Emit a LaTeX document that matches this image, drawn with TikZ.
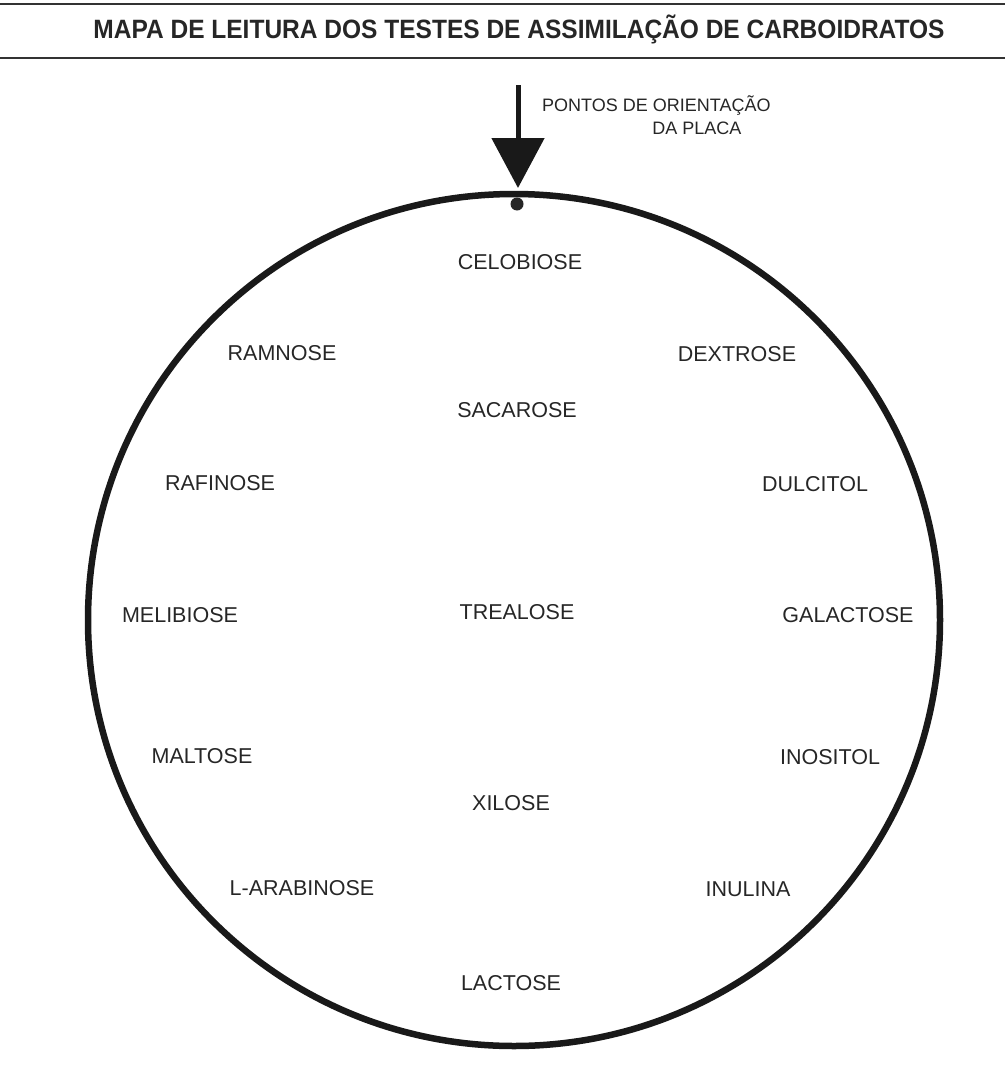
\documentclass[tikz,border=0pt]{standalone}
\usepackage{fontspec}
\setmainfont{Liberation Sans}
\usetikzlibrary{arrows.meta}

\begin{document}
\begin{tikzpicture}[x=1pt,y=-1pt]
\tikzstyle{sugar} = [text=black!85, font=\fontsize{21.5}{24}\selectfont, inner sep=0pt]
\tikzstyle{rule} = [line width=2.5pt, black!80]
\tikzstyle{orient} = [line width=5pt, -{Triangle[length=50pt,width=52pt]}]
\useasboundingbox (0,0) rectangle (1005,1079);
% cabecalho
\draw[rule] (0,4) -- (1005,4);
\draw[rule] (0,58) -- (1005,58);
\node[text=black!85, font=\fontsize{26.5}{28}\selectfont\bfseries, inner sep=0pt] (titulo) at (519,29)
    {\scalebox{0.925}[1]{MAPA DE LEITURA DOS TESTES DE ASSIMILAÇÃO DE CARBOIDRATOS}};
% placa
\node[circle, draw=black!90, line width=6.5pt, minimum size=852pt, inner sep=0pt] (placa) at (514,620) {};
\node[circle, fill=black!85, minimum size=13pt, inner sep=0pt] (ponto) at (517,204) {};
\coordinate (setatopo) at (518,85);
\coordinate (setaponta) at (518,188);
\draw[orient, black!90] (setatopo) -- (setaponta);
\node[text=black!85, font=\fontsize{18}{20}\selectfont, inner sep=0pt, anchor=west] (pontos) at (542,106) {PONTOS DE ORIENTAÇÃO};
\node[text=black!85, font=\fontsize{18}{20}\selectfont, inner sep=0pt] (daplaca) at (697,128) {DA PLACA};
% carboidratos
\node[sugar] (celobiose) at (520,262) {CELOBIOSE};
\node[sugar] (ramnose) at (282,353) {RAMNOSE};
\node[sugar] (dextrose) at (737,354) {DEXTROSE};
\node[sugar] (sacarose) at (517,410) {SACAROSE};
\node[sugar] (rafinose) at (220,483) {RAFINOSE};
\node[sugar] (dulcitol) at (815,484) {DULCITOL};
\node[sugar] (melibiose) at (180,615) {MELIBIOSE};
\node[sugar] (trealose) at (517,612) {TREALOSE};
\node[sugar] (galactose) at (848,615) {GALACTOSE};
\node[sugar] (maltose) at (202,756) {MALTOSE};
\node[sugar] (inositol) at (830,757) {INOSITOL};
\node[sugar] (xilose) at (511,803) {XILOSE};
\node[sugar] (arabinose) at (302,888) {L-ARABINOSE};
\node[sugar] (inulina) at (748,889) {INULINA};
\node[sugar] (lactose) at (511,983) {LACTOSE};
\end{tikzpicture}
\end{document}
